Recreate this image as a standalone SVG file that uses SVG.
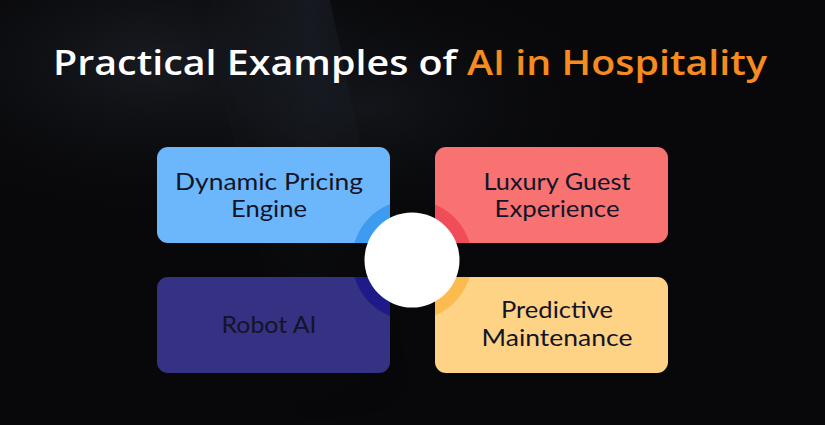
<svg xmlns="http://www.w3.org/2000/svg" width="825" height="425" viewBox="0 0 825 425">
  <defs>
    <radialGradient id="bgGlow1" cx="0.2" cy="0.15" r="0.4">
      <stop offset="0" stop-color="#1f232b" stop-opacity="0.8"/>
      <stop offset="1" stop-color="#08080a" stop-opacity="0"/>
    </radialGradient>
    <radialGradient id="bgGlow2" cx="0.45" cy="0.25" r="0.35">
      <stop offset="0" stop-color="#171a20" stop-opacity="0.7"/>
      <stop offset="1" stop-color="#08080a" stop-opacity="0"/>
    </radialGradient>
    <linearGradient id="band" x1="0" y1="0" x2="1" y2="0">
      <stop offset="0" stop-color="#2a3240" stop-opacity="0"/>
      <stop offset="0.5" stop-color="#2a3240" stop-opacity="0.35"/>
      <stop offset="1" stop-color="#2a3240" stop-opacity="0"/>
    </linearGradient>
    <linearGradient id="fade" x1="0" y1="0" x2="0" y2="1">
      <stop offset="0" stop-color="#ffffff" stop-opacity="1"/>
      <stop offset="0.6" stop-color="#ffffff" stop-opacity="0.2"/>
      <stop offset="1" stop-color="#ffffff" stop-opacity="0"/>
    </linearGradient>
    <mask id="bandMask"><rect x="0" y="0" width="825" height="425" fill="url(#fade)"/></mask>
    <clipPath id="cTL"><rect x="157" y="147" width="233" height="96" rx="11"/></clipPath>
    <clipPath id="cTR"><rect x="435" y="147" width="233" height="96" rx="11"/></clipPath>
    <clipPath id="cBL"><rect x="157" y="277" width="233" height="96" rx="11"/></clipPath>
    <clipPath id="cBR"><rect x="435" y="277" width="233" height="96" rx="11"/></clipPath>
  </defs>
  <style>
    .lbl { font-family: Lato, "Open Sans", "Liberation Sans", sans-serif; font-size: 23px; fill: #141428; text-anchor: middle; }
    .title { font-family: "Open Sans", "Liberation Sans", sans-serif; font-size: 34px; font-weight: 600; }
  </style>

  <!-- background -->
  <rect x="0" y="0" width="825" height="425" fill="#08080a"/>
  <rect x="0" y="0" width="825" height="425" fill="url(#bgGlow1)"/>
  <rect x="0" y="0" width="825" height="425" fill="url(#bgGlow2)"/>
  <polygon points="200,0 330,0 420,425 300,425" fill="url(#band)" mask="url(#bandMask)"/>

  <!-- title -->
  <text class="title" x="410" y="75" text-anchor="middle" textLength="714" lengthAdjust="spacingAndGlyphs"><tspan fill="#ffffff">Practical Examples of </tspan><tspan fill="#f68b1f">AI in Hospitality</tspan></text>

  <g id="node-dynamic-pricing">
    <rect x="157" y="147" width="233" height="96" rx="11" fill="#6cb7fc"/>
    <circle cx="412" cy="260" r="60" fill="#3d9bf0" clip-path="url(#cTL)"/>
    <text class="lbl" x="269" y="190" textLength="188" lengthAdjust="spacingAndGlyphs">Dynamic Pricing</text>
    <text class="lbl" x="269" y="217" textLength="76" lengthAdjust="spacingAndGlyphs">Engine</text>
  </g>

  <g id="node-luxury-guest">
    <rect x="435" y="147" width="233" height="96" rx="11" fill="#f87272"/>
    <circle cx="412" cy="260" r="60" fill="#f04c5a" clip-path="url(#cTR)"/>
    <text class="lbl" x="557" y="190" textLength="147" lengthAdjust="spacingAndGlyphs">Luxury Guest</text>
    <text class="lbl" x="557" y="217" textLength="125" lengthAdjust="spacingAndGlyphs">Experience</text>
  </g>

  <g id="node-robot-ai">
    <rect x="157" y="277" width="233" height="96" rx="11" fill="#353284"/>
    <circle cx="412" cy="260" r="60" fill="#1e1a87" clip-path="url(#cBL)"/>
    <text class="lbl" x="269" y="333" textLength="95" lengthAdjust="spacingAndGlyphs">Robot AI</text>
  </g>

  <g id="node-predictive-maintenance">
    <rect x="435" y="277" width="233" height="96" rx="11" fill="#fed385"/>
    <circle cx="412" cy="260" r="60" fill="#fcbb4e" clip-path="url(#cBR)"/>
    <text class="lbl" x="557" y="318" textLength="112" lengthAdjust="spacingAndGlyphs">Predictive</text>
    <text class="lbl" x="557" y="346" textLength="151" lengthAdjust="spacingAndGlyphs">Maintenance</text>
  </g>

  <g id="hub">
    <circle cx="412" cy="260" r="47.5" fill="#ffffff"/>
  </g>

  <g id="connectors"></g>
</svg>
